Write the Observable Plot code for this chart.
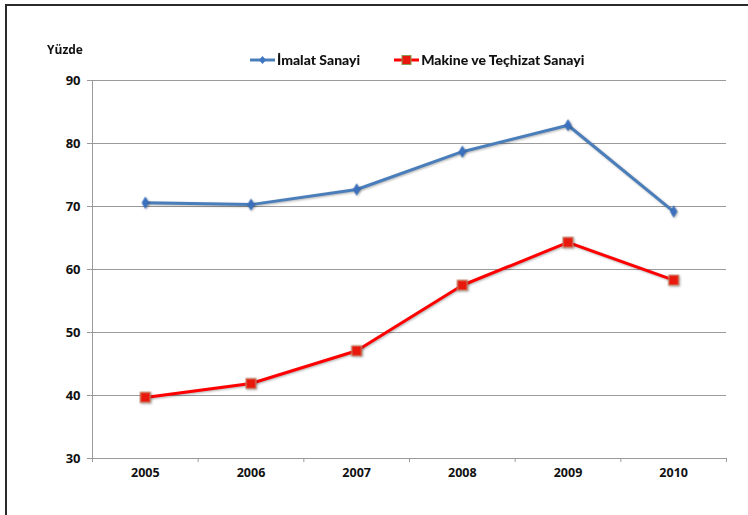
<!DOCTYPE html>
<html>
<head>
<meta charset="utf-8">
<script src="https://cdn.jsdelivr.net/npm/d3@7"></script>
<script src="https://cdn.jsdelivr.net/npm/@observablehq/plot@0.6"></script>
<style>
  html, body { margin: 0; padding: 0; background: #fff; }
  #wrap { position: relative; width: 748px; height: 515px; overflow: hidden; font-family: Lato, "Open Sans", sans-serif; }
  #frame { position: absolute; left: 5px; top: 4px; width: 760px; height: 540px; border-left: 2px solid #2a2a2a; border-top: 2px solid #2a2a2a; box-sizing: border-box; }
  #unit { position: absolute; left: 47px; top: 41px; font-family: "Open Sans", sans-serif; font-weight: 700; font-size: 12px; color: #111; }
  #legend { position: absolute; left: 250px; top: 51px; display: flex; align-items: center; font-weight: 900; font-size: 14px; color: #111; }
  #legend .item { display: flex; align-items: center; }
  #legend svg { margin-right: 2px; }
  #chart { position: absolute; left: 0; top: 0; }
  .shadow { filter: drop-shadow(1px 1px 1px rgba(0,0,0,0.3)); }
</style>
</head>
<body>
<div id="wrap">
  <div id="chart"></div>
  <div id="frame"></div>
  <div id="unit">Yüzde</div>
  <div id="legend"></div>
</div>
<script>
const years = [2005, 2006, 2007, 2008, 2009, 2010];
const imalat = [70.6, 70.3, 72.7, 78.7, 82.9, 69.2];
const makine = [39.7, 41.9, 47.1, 57.5, 64.3, 58.3];
const seriesNames = ["İmalat Sanayi", "Makine ve Teçhizat Sanayi"];
const yTicks = [30, 40, 50, 60, 70, 80, 90];

const blue = "#4a7ebb";
const red = "#ff0000";

const dataA = years.map((y, i) => ({year: y, value: imalat[i]}));
const dataB = years.map((y, i) => ({year: y, value: makine[i]}));
const bounds = [years[0] - 0.5, ...years.map(y => y + 0.5)];

const tickFont = "'Open Sans', sans-serif";

const chart = Plot.plot({
  width: 748,
  height: 515,
  marginLeft: 92,
  marginRight: 22,
  marginTop: 80,
  marginBottom: 57,
  style: {fontFamily: tickFont, fontSize: "13px", fontWeight: "700", color: "#111", background: "transparent"},
  x: {domain: [bounds[0], bounds[bounds.length - 1]]},
  y: {domain: [30, 90]},
  marks: [
    Plot.gridY(yTicks, {stroke: "#9a9a9a", strokeOpacity: 1, strokeWidth: 1}),
    Plot.ruleX([bounds[0]], {stroke: "#9a9a9a", strokeWidth: 1}),
    Plot.ruleY([30], {stroke: "#9a9a9a", strokeWidth: 1}),
    Plot.axisY(yTicks, {tickSize: 5, tickPadding: 7, stroke: "#9a9a9a", label: null, fill: "#111", fontWeight: 700, fontSize: 13, fontFamily: tickFont}),
    Plot.axisX(bounds, {tickSize: 4, tickFormat: () => "", stroke: "#9a9a9a", label: null}),
    Plot.axisX(years, {tickSize: 0, tickPadding: 10, tickFormat: d => String(d), label: null, fill: "#111", fontWeight: 700, fontSize: 12.5, fontFamily: tickFont}),
    Plot.line(dataA, {x: "year", y: "value", stroke: blue, strokeWidth: 3, strokeLinejoin: "round", className: "shadow"}),
    Plot.line(dataB, {x: "year", y: "value", stroke: red, strokeWidth: 3, strokeLinejoin: "round", className: "shadow"}),
    Plot.dot(dataA, {x: "year", y: "value", symbol: "diamond", r: 3.3, fill: "#3a70bd", stroke: "#3a70bd", strokeWidth: 1, className: "shadow"}),
    Plot.dot(dataB, {x: "year", y: "value", symbol: "square", r: 5.6, fill: "#e8180c", stroke: "#c9856a", strokeWidth: 1.2, className: "shadow"})
  ]
});
document.getElementById("chart").appendChild(chart);

// legend
const legend = document.getElementById("legend");
function swatch(kind) {
  const ns = "http://www.w3.org/2000/svg";
  const s = document.createElementNS(ns, "svg");
  s.setAttribute("width", 25); s.setAttribute("height", 14);
  const l = document.createElementNS(ns, "line");
  l.setAttribute("x1", 0); l.setAttribute("x2", 25); l.setAttribute("y1", 7); l.setAttribute("y2", 7);
  l.setAttribute("stroke", kind === 0 ? blue : red); l.setAttribute("stroke-width", 3);
  s.appendChild(l);
  if (kind === 0) {
    const p = document.createElementNS(ns, "path");
    p.setAttribute("d", "M12.5,3 L16,7 L12.5,11 L9,7 Z");
    p.setAttribute("fill", "#3f76c0");
    s.appendChild(p);
  } else {
    const r = document.createElementNS(ns, "rect");
    r.setAttribute("x", 8); r.setAttribute("y", 2.5); r.setAttribute("width", 9); r.setAttribute("height", 9);
    r.setAttribute("fill", "#e8180c"); r.setAttribute("stroke", "#8a9a50"); r.setAttribute("stroke-width", 1);
    s.appendChild(r);
  }
  return s;
}
seriesNames.forEach((name, i) => {
  const item = document.createElement("div");
  item.className = "item";
  if (i > 0) item.style.marginLeft = "34px";
  item.appendChild(swatch(i));
  const t = document.createElement("span");
  t.textContent = name;
  item.appendChild(t);
  legend.appendChild(item);
});
</script>
</body>
</html>
